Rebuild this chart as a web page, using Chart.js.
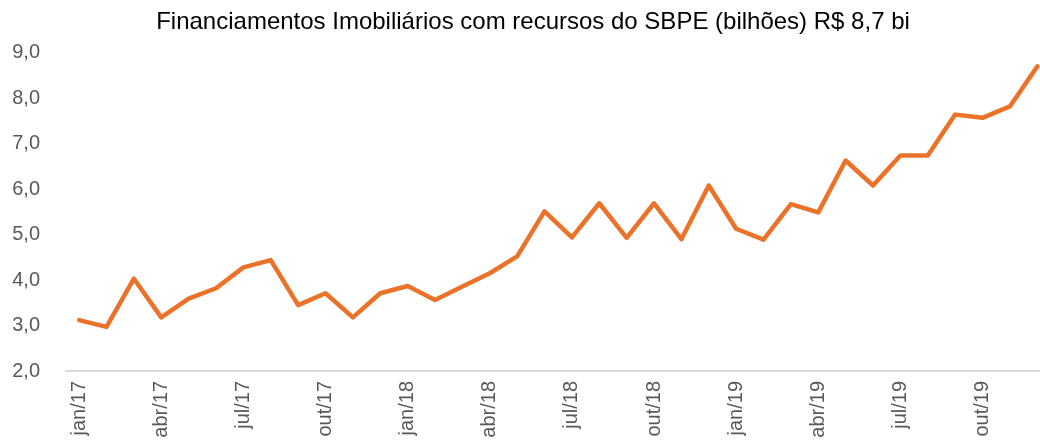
<!DOCTYPE html>
<html>
<head>
<meta charset="utf-8">
<script src="https://cdn.jsdelivr.net/npm/chart.js@4/dist/chart.umd.min.js"></script>
<style>
  html, body { margin: 0; padding: 0; background: #fff; }
  #wrap { width: 1040px; height: 446px; }
</style>
</head>
<body>
<div id="wrap"><canvas id="graph1"></canvas></div>
<script>
var titulo = 'Financiamentos Imobiliários com recursos do SBPE (bilhões) R$ 8,7 bi';

var meses = [
  'jan/17','fev/17','mar/17','abr/17','mai/17','jun/17','jul/17','ago/17','set/17','out/17','nov/17','dez/17',
  'jan/18','fev/18','mar/18','abr/18','mai/18','jun/18','jul/18','ago/18','set/18','out/18','nov/18','dez/18',
  'jan/19','fev/19','mar/19','abr/19','mai/19','jun/19','jul/19','ago/19','set/19','out/19','nov/19','dez/19'
];

var sbpe = [
  3.12, 2.97, 4.03, 3.18, 3.59, 3.82, 4.28, 4.44, 3.45, 3.71, 3.18, 3.71,
  3.87, 3.56, 3.86, 4.15, 4.52, 5.51, 4.94, 5.69, 4.93, 5.69, 4.90, 6.08,
  5.13, 4.89, 5.67, 5.49, 6.63, 6.08, 6.74, 6.74, 7.64, 7.57, 7.82, 8.70
];

var yTicks = [2, 3, 4, 5, 6, 7, 8, 9];

var cinza = '#595959';
var laranja = '#EB7329';

var pontos = [];
sbpe.forEach((v, i) => {
  pontos.push({ x: i, y: v });
});

var ctx = document.getElementById('graph1').getContext('2d');

var config = {
  type: 'line',
  data: {
    datasets: [{
      label: 'SBPE',
      data: pontos,
      borderColor: laranja,
      backgroundColor: laranja,
      borderWidth: 4.5,
      borderJoinStyle: 'round',
      borderCapStyle: 'round',
      pointRadius: 0,
      tension: 0,
      clip: false
    }]
  },
  options: {
    responsive: true,
    maintainAspectRatio: false,
    animation: false,
    // padding negativo à direita só desloca o título como no original
    layout: { padding: { left: 0, right: -26, top: 0, bottom: 0 } },
    plugins: {
      legend: { display: false },
      tooltip: { enabled: false },
      title: {
        display: true,
        text: titulo,
        color: '#000',
        font: { family: 'Liberation Sans', size: 24, weight: 'normal' },
        padding: { top: 8, bottom: 16 }
      }
    },
    scales: {
      x: {
        type: 'linear',
        min: -0.48,
        max: 35.1,
        grid: { display: false, drawTicks: false },
        border: { display: true, color: '#d9d9d9', width: 2 },
        afterBuildTicks: function (scale) {
          scale.ticks = meses.map((m, i) => ({ value: i })).filter(t => t.value % 3 === 0);
        },
        afterFit: function (scale) { scale.height = 75; },
        ticks: {
          autoSkip: false,
          minRotation: 90,
          maxRotation: 90,
          padding: 10,
          color: cinza,
          font: { family: 'Liberation Sans', size: 20 },
          callback: function (v) { return meses[v]; }
        }
      },
      y: {
        min: 2,
        max: 9,
        grid: { display: false, drawTicks: false },
        border: { display: false },
        afterBuildTicks: function (scale) {
          scale.ticks = yTicks.map(v => ({ value: v }));
        },
        afterFit: function (scale) { scale.width = 66; },
        ticks: {
          padding: 26,
          color: cinza,
          font: { family: 'Liberation Sans', size: 20 },
          callback: function (v) { return v.toFixed(1).replace('.', ','); }
        }
      }
    }
  }
};

var graph1 = new Chart(ctx, config);
</script>
</body>
</html>
